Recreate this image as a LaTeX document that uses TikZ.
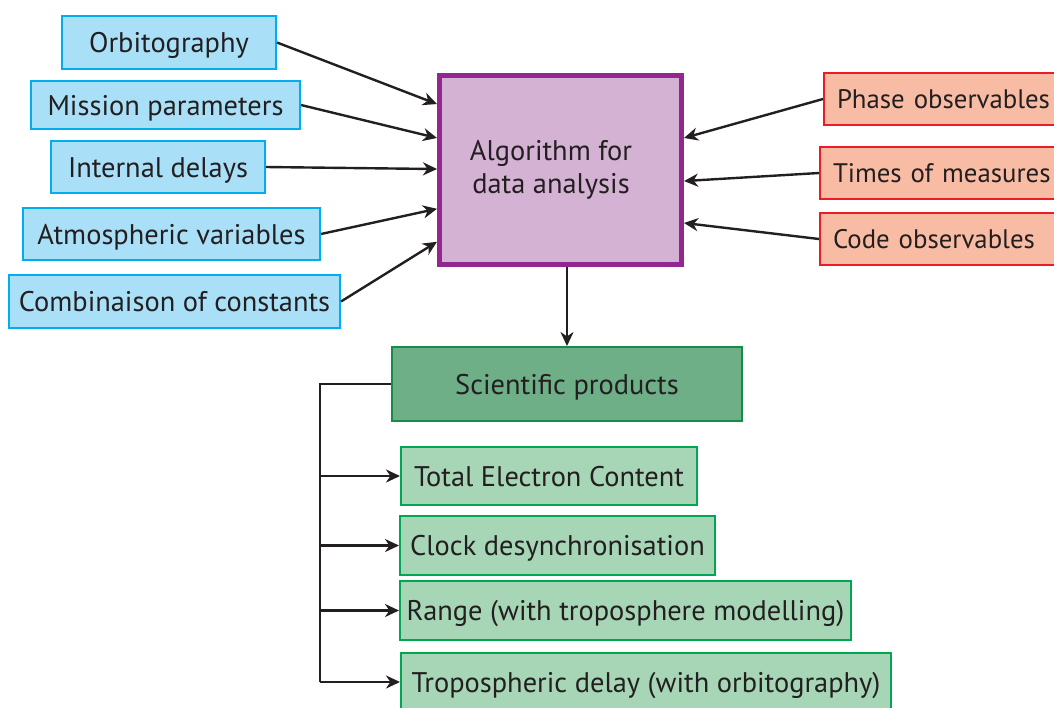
\documentclass[tikz,border=0pt]{standalone}
\usepackage{fontspec}
\setmainfont{PT Sans}
\usetikzlibrary{arrows.meta,calc}
\definecolor{inputfill}{HTML}{A9E0F8}
\definecolor{inputedge}{HTML}{00AEEF}
\definecolor{obsfill}{HTML}{F8BBA4}
\definecolor{obsedge}{HTML}{ED1C24}
\definecolor{algofill}{HTML}{D3B2D4}
\definecolor{algoedge}{HTML}{93278F}
\definecolor{prodfill}{HTML}{6EAF88}
\definecolor{prodedge}{HTML}{158C4A}
\definecolor{itemfill}{HTML}{A6D6B6}
\definecolor{itemedge}{HTML}{00A651}
\definecolor{inkline}{HTML}{231F20}

\begin{document}
\begin{tikzpicture}[
  x=0.5pt,
  y=-0.5pt,
  font=\fontsize{14.2}{16.5}\selectfont,
  every node/.style={text=inkline,inner sep=0pt},
  box/.style={draw,line width=1pt,rectangle,text height=12pt,text depth=2pt},
  inbox/.style={box,fill=inputfill,draw=inputedge},
  obsbox/.style={box,fill=obsfill,draw=obsedge,anchor=west,minimum width=160pt,
    text width=150pt,align=left,inner xsep=6.5pt,font=\fontsize{13.4}{16}\selectfont,
    text height=11.5pt},
  algobox/.style={box,fill=algofill,draw=algoedge,line width=2.5pt},
  prodbox/.style={box,fill=prodfill,draw=prodedge},
  itembox/.style={box,fill=itemfill,draw=itemedge},
  link/.style={draw=inkline,line width=1.2pt,-{Stealth[length=7pt,width=6.5pt,inset=2.2pt]}}
]
  \useasboundingbox (0,0) rectangle (1054,707);
  \clip (0,0) rectangle (1054,707);

  % inputs on the left
  \node[inbox,minimum width=107pt,minimum height=26.5pt] (orbit) at (169,42.5) {Orbitography};
  \node[inbox,minimum width=134.5pt,minimum height=24pt] (mission) at (165.5,105) {Mission parameters};
  \node[inbox,minimum width=107pt,minimum height=26pt] (internal) at (158,167) {Internal delays};
  \node[inbox,minimum width=148.5pt,minimum height=26pt] (atmo) at (171.5,234) {Atmospheric variables};
  \node[inbox,minimum width=165.5pt,minimum height=26.5pt] (combi) at (174.5,301.5) {Combinaison of constants};

  % central algorithm
  \node[algobox,minimum width=121pt,minimum height=94.5pt] (algo) at (560.5,170) {};
  \node[align=center] (algotext) at (551,170) {Algorithm for\\data analysis};

  % observables on the right, running off the page edge
  \node[obsbox,minimum height=26pt] (phase) at (823,99) {Phase observables};
  \node[obsbox,minimum height=26pt] (times) at (819,173) {Times of measures};
  \node[obsbox,minimum height=26pt] (code) at (819,239) {Code observables};

  % products
  \node[prodbox,minimum width=175pt,minimum height=37pt] (sci) at (567,384) {Scientific products};
  \node[itembox,minimum width=148pt,minimum height=29pt] (tec) at (549,476) {Total Electron Content};
  \node[itembox,minimum width=157.5pt,minimum height=29.5pt] (clock) at (557.5,545.5) {Clock desynchronisation};
  \node[itembox,minimum width=225.5pt,minimum height=29.5pt] (range) at (625.5,610.5) {Range (with troposphere modelling)};
  \node[itembox,minimum width=245pt,minimum height=29pt] (tropo) at (646,682) {Tropospheric delay (with orbitography)};

  % arrows into the algorithm
  \draw[link] (orbit.east) -- ($(algo.north west)!0.16!(algo.south west)$);
  \draw[link] (mission.east) -- ($(algo.north west)!0.335!(algo.south west)$);
  \draw[link] (internal.east) -- ($(algo.north west)!0.495!(algo.south west)$);
  \draw[link] (atmo.east) -- ($(algo.north west)!0.70!(algo.south west)$);
  \draw[link] (combi.east) -- ($(algo.north west)!0.87!(algo.south west)$);
  \draw[link] (phase.west) -- ($(algo.north east)!0.335!(algo.south east)$);
  \draw[link] (times.west) -- ($(algo.north east)!0.557!(algo.south east)$);
  \draw[link] (code.west) -- ($(algo.north east)!0.773!(algo.south east)$);
  \draw[link] (algo.south -| sci.north) -- (sci.north);

  % branch to the single products
  \coordinate (bus) at (320,384);
  \draw[draw=inkline,line width=1.2pt] (sci.west) -- (bus) -- (bus |- tropo.west);
  \foreach \p in {tec,clock,range,tropo} {
    \draw[link] (bus |- \p.west) -- (\p.west);
  }
\end{tikzpicture}
\end{document}
